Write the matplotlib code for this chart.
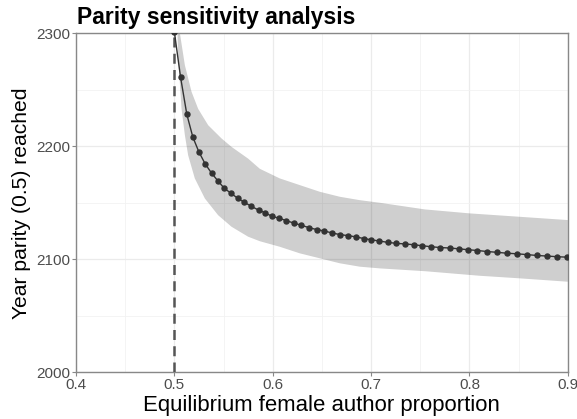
import numpy as np
import matplotlib
matplotlib.use("Agg")
import matplotlib.pyplot as plt

plt.rcParams['font.family'] = ['Liberation Sans', 'DejaVu Sans']

# estimated parity year for each equilibrium proportion
eq_prop = [0.5, 0.5063, 0.5127, 0.5188, 0.5249, 0.5313, 0.5378, 0.5442, 0.5506, 0.5577,
           0.5642, 0.5713, 0.578, 0.5856, 0.5923, 0.5992, 0.6067, 0.6138, 0.6212, 0.6291,
           0.6369, 0.6446, 0.6521, 0.6599, 0.668, 0.6761, 0.6843, 0.6924, 0.7, 0.7082,
           0.717, 0.7258, 0.7346, 0.7434, 0.7522, 0.7614, 0.7705, 0.78, 0.7891, 0.7986,
           0.8081, 0.8179, 0.8281, 0.8382, 0.8481, 0.8582, 0.8687, 0.8789, 0.8894, 0.8996]
parity_year = [2301, 2261, 2228, 2208, 2195, 2184.4, 2176.2, 2169.4, 2162.9, 2158.3,
               2154.1, 2150.3, 2147, 2143.5, 2141.1, 2138, 2136.3, 2134.2, 2132.1, 2130.1,
               2128, 2126.3, 2125.1, 2123.4, 2121.9, 2121, 2119.9, 2118.4, 2117.3, 2116.2,
               2115, 2114.1, 2113.6, 2112.9, 2112, 2111.1, 2110.4, 2110, 2109.3, 2108.5,
               2107.8, 2106.9, 2106.2, 2105.4, 2104.9, 2104.2, 2103.4, 2102.9, 2102.3, 2101.9]

# uncertainty band edges
upper_x = [0.5, 0.5056, 0.5107, 0.5175, 0.5242, 0.5344, 0.548, 0.5581, 0.575, 0.5869,
           0.6072, 0.6275, 0.6479, 0.6682, 0.6885, 0.7088, 0.7548, 0.8003, 0.8511, 0.9]
upper_y = [2400, 2300, 2271.5, 2248, 2233, 2218.5, 2206.8, 2199.4, 2189, 2180,
           2171.5, 2165.6, 2159.7, 2155.3, 2152.3, 2150, 2144.1, 2140.6, 2137.6, 2134.7]
lower_x = [0.5, 0.5039, 0.5073, 0.5107, 0.514, 0.5208, 0.531, 0.5445, 0.5581, 0.575,
           0.5869, 0.6072, 0.6275, 0.6479, 0.6682, 0.6885, 0.7088, 0.7548, 0.81, 0.8511, 0.9]
lower_y = [2400, 2278, 2233, 2209.7, 2192, 2171.5, 2153.8, 2139, 2128.8, 2120,
           2116, 2111.1, 2105.3, 2100.9, 2096.5, 2093.5, 2092, 2089.5, 2085.5, 2083.2, 2080.2]

x_ticks = [0.4, 0.5, 0.6, 0.7, 0.8, 0.9]
x_tick_labels = ['0.4', '0.5', '0.6', '0.7', '0.8', '0.9']
y_ticks = [2000, 2100, 2200, 2300]
parity_line = 0.5

fig = plt.figure(figsize=(5.77, 4.19), dpi=100)
ax = fig.add_axes([0.1317, 0.1110, 0.8524, 0.8102])

ax.set_xlim(0.4, 0.9)
ax.set_ylim(2000, 2300)
ax.set_xticks(x_ticks, x_tick_labels)
ax.set_xticks([0.45, 0.55, 0.65, 0.75, 0.85], minor=True)
ax.set_yticks(y_ticks, [str(v) for v in y_ticks])
ax.set_yticks([2050, 2150, 2250], minor=True)
ax.grid(True, which='major', color='#ebebeb', lw=0.9)
ax.grid(True, which='minor', color='#f2f2f2', lw=0.6)
ax.set_axisbelow(True)

# ribbon
poly_x = np.concatenate([upper_x, lower_x[::-1]])
poly_y = np.concatenate([upper_y, lower_y[::-1]])
ax.fill(poly_x, poly_y, color='black', alpha=0.19, lw=0, zorder=2)

ax.axvline(parity_line, color='#555555', lw=1.8, ls=(0, (4, 2.5)), zorder=3)
ax.plot(eq_prop, parity_year, color='#333333', lw=1, marker='o', ms=3.6, zorder=4)

for s in ax.spines.values():
    s.set_color('#888888')
    s.set_linewidth(1)

ax.tick_params(which='major', length=3, color='#888888', labelsize=11,
               labelcolor='#4d4d4d', pad=1)
ax.tick_params(which='minor', length=0)

ax.set_xlabel('Equilibrium female author proportion', fontsize=15.9, labelpad=2)
ax.set_ylabel('Year parity (0.5) reached', fontsize=15.2, labelpad=4)
fig.text(0.133, 0.943, 'Parity sensitivity analysis', fontsize=16.5,
         fontweight='bold', ha='left', va='baseline')

fig.savefig('out.png', dpi=100)
